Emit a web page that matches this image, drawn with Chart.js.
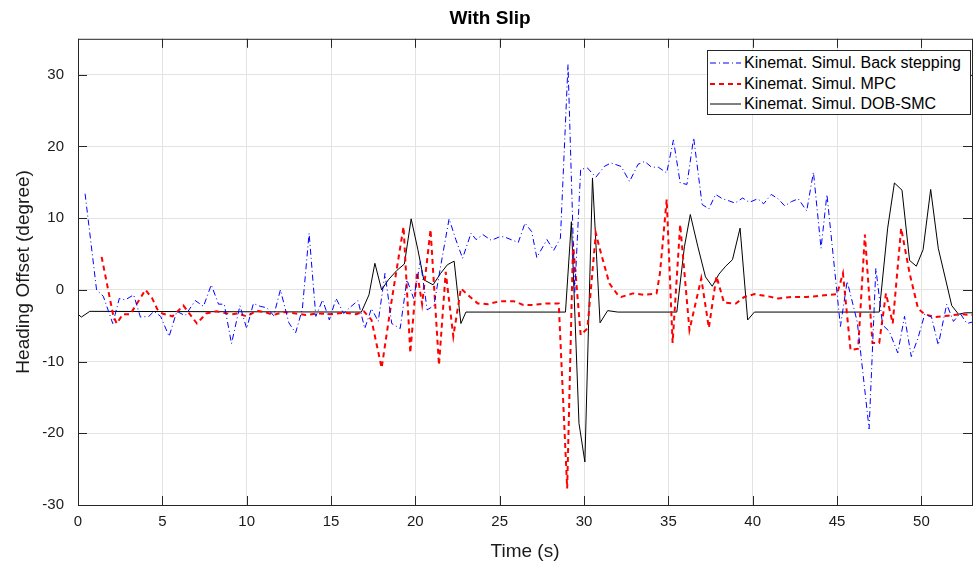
<!DOCTYPE html>
<html>
<head>
<meta charset="utf-8">
<script src="https://cdn.jsdelivr.net/npm/chart.js@4.4.1/dist/chart.umd.min.js"></script>
<style>
  body { margin: 0; background: #fff; }
  #wrap { position: relative; width: 975px; height: 567px; }
  #legend {
    position: absolute; left: 707px; top: 50px; width: 264px; height: 65px;
    border: 1px solid #262626; background: #fff; box-sizing: border-box;
    font-family: "Liberation Sans", Arial, sans-serif; font-size: 16px; color: #000;
    padding-top: 2px;
  }
  #legend .row { display: flex; align-items: center; height: 20.5px; white-space: nowrap; }
  #legend svg { margin-left: 2px; margin-right: 3px; }
</style>
</head>
<body>
<div id="wrap">
  <canvas id="myChart" width="975" height="567"></canvas>
  <div id="legend">
    <div class="row"><svg width="31" height="4"><line x1="0" y1="2" x2="31" y2="2" stroke="#0000ff" stroke-width="1" stroke-dasharray="6,3,1,3"/></svg>Kinemat. Simul. Back stepping</div>
    <div class="row"><svg width="31" height="4"><line x1="0" y1="2" x2="31" y2="2" stroke="#ff0000" stroke-width="2" stroke-dasharray="5,4"/></svg>Kinemat. Simul. MPC</div>
    <div class="row"><svg width="31" height="4"><line x1="0" y1="2" x2="31" y2="2" stroke="#000" stroke-width="1"/></svg>Kinemat. Simul. DOB-SMC</div>
  </div>
</div>
<script>
// Back stepping (blue)
const blueT = [0.42, 1.1, 1.5, 2.06, 2.45, 2.8, 3.3, 3.7, 4.2, 4.5, 4.9, 5.4, 5.86, 6.35, 6.95, 7.44, 7.9, 8.33, 8.67, 9.1,
  9.6, 10.0, 10.4, 10.8, 11.2, 11.6, 12.0, 12.5, 12.9, 13.3, 13.7, 14.1, 14.5, 14.9, 15.3, 15.75, 16.1, 16.6, 17.0, 17.4,
  17.8, 18.2, 18.6, 19.1, 19.5, 19.9, 20.3, 20.7, 21.1, 21.5, 22.0, 22.4, 22.8, 23.3, 23.6, 24.0, 24.5, 25.0, 25.25, 26.1,
  26.5, 26.9, 27.2, 27.8, 28.2, 28.6, 29.05, 29.45, 29.8, 30.2, 30.7, 31.2, 31.6, 32.2, 32.7, 33.2, 33.6, 34.0, 34.4, 34.9,
  35.3, 35.7, 36.1, 36.5, 37.0, 37.4, 37.8, 38.2, 38.6, 38.95, 39.4, 39.8, 40.3, 40.65, 41.1, 41.5, 41.9, 42.3, 42.7, 43.2,
  43.6, 44.05, 44.4, 45.2, 45.6, 46.2, 46.9, 47.3, 47.7, 48.1, 48.6, 49.0, 49.4, 49.8, 50.2, 50.6, 51.0, 51.5, 51.9, 52.3,
  52.7, 53.0]
const blueY = [13.4, 0, -0.9, -4.7, -1.2, -1.4, -0.7, -3.8, -3.7, -3.0, -3.7, -6.5, -3.0, -3.6, -1.5, -2.3, 0.7, -2.0, -2.0, -7.5,
  -2.2, -5.4, -1.9, -2.3, -2.5, -3.6, 0, -4.6, -6.0, -2.7, 7.9, -3.7, -1.4, -4.2, -1.2, -3.3, -2.5, -1.5, -5.4, -2.6,
  -4.4, 2.3, -4.7, -5.4, 1.4, -1.2, 4.0, -2.8, -2.2, 3.3, 9.9, 7.0, 4.4, 7.9, 7.0, 7.7, 6.9, 7.4, 7.4, 6.6,
  9.3, 8.1, 4.5, 7.0, 5.5, 7.2, 31.4, -0.4, 16.8, 17.0, 15.7, 17.2, 17.7, 17.2, 15.1, 17.5, 17.9, 17.1, 17.1, 16.3,
  20.9, 14.9, 14.7, 21.2, 11.9, 11.3, 13.3, 12.7, 12.4, 12.1, 12.8, 12.2, 12.7, 12.0, 13.3, 12.7, 11.7, 12.3, 12.7, 11.0,
  16.4, 5.8, 13.3, -5.1, 1.2, -4.5, -19.4, 3.0, -4.9, -5.8, -8.8, -3.7, -9.3, -6.7, -3.4, -3.8, -7.7, -2.0, -4.4, -3.3,
  -4.7, -4.5]

// MPC (red)
const redT = [1.4, 2.1, 2.3, 2.65, 3.1, 4.0, 4.4, 4.7, 5.0, 5.6, 6.25, 7.05, 7.6, 8.2, 9.1, 9.5, 10.0, 10.6, 11.2, 11.6,
  12.2, 12.9, 13.5, 14.2, 15.0, 15.8, 16.5, 16.95, 17.4, 18.0, 18.6, 19.3, 19.7, 20.1, 20.4, 20.9, 21.4, 21.8, 22.25, 22.7,
  23.1, 23.7, 24.3, 25.0, 25.85, 26.4, 27.0, 27.8, 28.5, 29.0, 29.35, 29.8, 30.2, 30.7, 30.9, 31.5, 32.0, 32.2, 32.9, 33.6,
  34.3, 34.5, 34.9, 35.25, 35.7, 36.25, 36.95, 37.4, 37.85, 38.3, 39.0, 39.5, 40.1, 40.9, 41.5, 42.3, 43.2, 44.1, 45.0, 45.35,
  45.8, 46.25, 46.65, 47.1, 47.5, 47.9, 48.3, 48.8, 49.3, 49.8, 50.2, 50.8, 51.6, 52.3, 53.0]
const redY = [4.6, -3.7, -4.7, -3.4, -3.4, 0, -1.2, -2.7, -3.3, -3.7, -2.2, -4.7, -3.3, -3.0, -3.4, -3.3, -3.7, -2.9, -3.2, -3.5,
  -3.1, -3.3, -3.5, -3.3, -3.4, -3.2, -3.4, -3.0, -4.2, -10.9, -1.4, 8.8, -8.8, 2.5, -2.0, 8.4, -10.5, 2.5, -6.5, 0.2,
  -0.7, -1.9, -2.0, -1.6, -1.6, -2.1, -2.1, -1.9, -1.9, -27.7, 6.5, -6.3, -5.4, 7.9, 6.0, 0.9, -0.7, -1.0, -0.5, -0.7,
  -0.5, 2.3, 12.6, -7.4, 9.1, -5.6, 1.6, -5.3, 1.9, -1.8, -1.9, -1.0, -0.6, -0.9, -1.2, -1.0, -1.0, -0.8, -0.6, 2.3,
  -8.4, -8.2, 7.7, -7.4, -7.4, -0.5, -4.7, 8.6, 2.3, -2.6, -3.4, -3.8, -3.6, -3.4, -3.5]

// DOB-SMC (black)
const blackT = [0, 0.2, 0.7, 16.8, 17.25, 17.6, 18.0, 18.4, 18.9, 19.35, 19.75, 20.15, 20.5, 21.05, 21.5, 21.9, 22.3, 22.7, 23.0, 28.9,
  29.25, 29.7, 30.05, 30.5, 30.95, 31.4, 32.0, 35.5, 35.95, 36.3, 36.75, 37.2, 37.6, 38.0, 38.4, 38.8, 39.25, 39.7, 40.1, 47.5,
  48.0, 48.4, 48.85, 49.3, 49.7, 50.1, 50.55, 51.0, 51.8, 52.2, 52.6, 53.0]
const blackY = [-3.4, -3.8, -3.0, -3.1, -0.7, 3.7, 0.0, 1.4, 2.7, 3.6, 9.9, 5.6, 1.4, 0.7, 2.3, 3.5, 4.0, -4.7, -3.1, -3.1,
  9.5, -18.6, -24.0, 15.6, -4.6, -2.9, -3.1, -3.1, 6.0, 10.5, 6.0, 1.8, 0.5, 2.2, 3.3, 4.2, 8.6, -4.2, -3.1, -3.1,
  8.6, 14.9, 13.9, 4.1, 3.3, 5.6, 14.0, 5.8, -2.2, -3.4, -3.2, -3.2]

const xTicks = [0, 5, 10, 15, 20, 25, 30, 35, 40, 45, 50]
const yTicks = [-30, -20, -10, 0, 10, 20, 30]

const toPoints = (t, y) => t.map((v, i) => ({ x: v, y: y[i] }))
const font = 'Liberation Sans, Arial, sans-serif'

// MATLAB-like box with inward ticks on all four sides
const boxPlugin = {
  id: 'box',
  afterDraw(chart) {
    const { ctx, chartArea: a, scales } = chart
    ctx.save()
    ctx.strokeStyle = '#262626'
    ctx.lineWidth = 1
    ctx.strokeRect(a.left + 0.5, a.top + 0.5, a.right - a.left, a.bottom - a.top)
    ctx.beginPath()
    xTicks.forEach(v => {
      const px = Math.round(scales.x.getPixelForValue(v)) + 0.5
      ctx.moveTo(px, a.bottom); ctx.lineTo(px, a.bottom - 9)
      ctx.moveTo(px, a.top); ctx.lineTo(px, a.top + 9)
    })
    yTicks.forEach(v => {
      const py = Math.round(scales.y.getPixelForValue(v)) + 0.5
      ctx.moveTo(a.left, py); ctx.lineTo(a.left + 9, py)
      ctx.moveTo(a.right, py); ctx.lineTo(a.right - 9, py)
    })
    ctx.stroke()
    ctx.restore()
  },
}

const ctx = document.getElementById('myChart').getContext('2d')
new Chart(ctx, {
  type: 'line',
  data: {
    datasets: [
      {
        label: 'Kinemat. Simul. Back stepping',
        data: toPoints(blueT, blueY),
        borderColor: '#0000ff',
        borderWidth: 1,
        borderDash: [6, 3, 1, 3],
        pointRadius: 0,
        tension: 0,
      },
      {
        label: 'Kinemat. Simul. MPC',
        data: toPoints(redT, redY),
        borderColor: '#ff0000',
        borderWidth: 2,
        borderDash: [5, 4],
        pointRadius: 0,
        tension: 0,
      },
      {
        label: 'Kinemat. Simul. DOB-SMC',
        data: toPoints(blackT, blackY),
        borderColor: '#000000',
        borderWidth: 1,
        pointRadius: 0,
        tension: 0,
      },
    ],
  },
  options: {
    responsive: false,
    animation: false,
    layout: { padding: { left: 8, right: 3, top: 0, bottom: 0 } },
    plugins: {
      legend: { display: false },
      tooltip: { enabled: false },
      title: {
        display: true,
        text: 'With Slip',
        color: '#000',
        font: { family: font, size: 19, weight: 'bold' },
        padding: { top: 7, bottom: 9 },
      },
    },
    scales: {
      x: {
        type: 'linear',
        min: 0,
        max: 53,
        afterBuildTicks: s => { s.ticks = xTicks.map(v => ({ value: v })) },
        afterFit: s => { s.height = 62 },
        grid: { color: '#e3e3e3', drawTicks: false },
        border: { display: false },
        ticks: { color: '#1a1a1a', font: { family: font, size: 15 }, padding: 8, maxRotation: 0 },
        title: { display: true, text: 'Time (s)', color: '#1a1a1a', font: { family: font, size: 19 }, padding: { top: 8 } },
      },
      y: {
        type: 'linear',
        min: -30,
        max: 35,
        afterBuildTicks: s => { s.ticks = yTicks.map(v => ({ value: v })) },
        afterFit: s => { s.width = 70 },
        grid: { color: '#e3e3e3', drawTicks: false },
        border: { display: false },
        ticks: { color: '#1a1a1a', font: { family: font, size: 15 }, padding: 14 },
        title: { display: true, text: 'Heading Offset (degree)', color: '#1a1a1a', font: { family: font, size: 19 }, padding: { bottom: 4 } },
      },
    },
  },
  plugins: [boxPlugin],
})
</script>
</body>
</html>
